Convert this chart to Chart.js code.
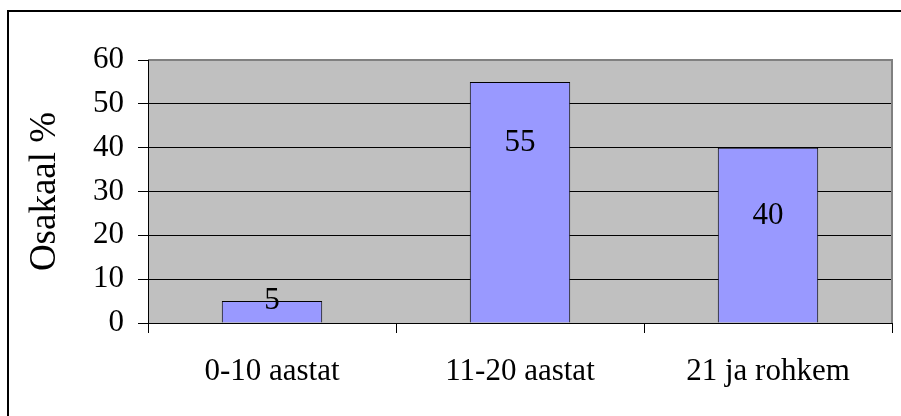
<!DOCTYPE html>
<html>
<head>
<meta charset="utf-8">
<script src="https://cdn.jsdelivr.net/npm/chart.js@4/dist/chart.umd.min.js"></script>
<style>
  html, body { margin: 0; padding: 0; background: #fff; }
  #wrap { width: 901px; height: 416px; position: relative; }
</style>
</head>
<body>
<div id="wrap"><canvas id="c" width="901" height="416"></canvas></div>
<script>
// Staaž: vastajate jaotus (%)
const categories = ['0-10 aastat', '11-20 aastat', '21 ja rohkem'];
const shares = [5, 55, 40];
const yTicks = [0, 10, 20, 30, 40, 50, 60];
const yTitle = 'Osakaal %';

const SERIF = '"Liberation Serif", "Times New Roman", serif';

// Frame around the whole figure, grey plot background and plot border
const framePlugin = {
  id: 'frame',
  beforeDraw(chart) {
    const { ctx, chartArea: a } = chart;
    ctx.save();
    ctx.fillStyle = '#fff';
    ctx.fillRect(0, 0, chart.width, chart.height);
    ctx.strokeStyle = '#000';
    ctx.lineWidth = 2;
    ctx.strokeRect(8, 11, chart.width + 20, chart.height + 20);
    ctx.fillStyle = '#C0C0C0';
    ctx.fillRect(a.left, a.top, a.right - a.left, a.bottom - a.top);
    ctx.restore();
  },
  beforeDatasetsDraw(chart) {
    const { ctx, chartArea: a } = chart;
    ctx.save();
    ctx.strokeStyle = '#808080';
    ctx.lineWidth = 2;
    ctx.beginPath();
    ctx.moveTo(a.left, a.top);
    ctx.lineTo(a.right, a.top);
    ctx.lineTo(a.right, a.bottom);
    ctx.stroke();
    ctx.strokeStyle = '#000';
    ctx.lineWidth = 1;
    ctx.beginPath();
    ctx.moveTo(a.left + 0.5, a.top);
    ctx.lineTo(a.left + 0.5, a.bottom + 0.5);
    ctx.lineTo(a.right, a.bottom + 0.5);
    ctx.stroke();
    ctx.restore();
  }
};

// Value labels drawn over the bars
const valueLabels = {
  id: 'valueLabels',
  afterDatasetsDraw(chart, args, opts) {
    const { ctx } = chart;
    const meta = chart.getDatasetMeta(0);
    ctx.save();
    ctx.font = opts.font;
    ctx.fillStyle = '#000';
    ctx.textAlign = 'center';
    ctx.textBaseline = 'middle';
    meta.data.forEach((bar, i) => {
      const v = chart.data.datasets[0].data[i];
      ctx.fillText(String(v), bar.x, bar.y + opts.offsets[i]);
    });
    ctx.restore();
  }
};

new Chart(document.getElementById('c'), {
  type: 'bar',
  data: {
    labels: categories,
    datasets: [{
      data: shares,
      backgroundColor: '#9999FF',
      borderColor: '#000',
      borderWidth: 1,
      categoryPercentage: 1,
      barPercentage: 0.405
    }]
  },
  options: {
    responsive: false,
    animation: false,
    devicePixelRatio: 1,
    layout: { padding: { top: 60, right: 9, left: 0, bottom: 0 } },
    plugins: {
      legend: { display: false },
      tooltip: { enabled: false },
      valueLabels: { font: '31px ' + SERIF, offsets: [0, 61, 68] }
    },
    scales: {
      x: {
        grid: {
          offset: true,
          drawOnChartArea: false,
          tickLength: 10,
          color: '#000',
          lineWidth: 1
        },
        border: { display: false },
        ticks: {
          color: '#000',
          font: { family: SERIF, size: 31 },
          padding: 20,
          maxRotation: 0
        },
        afterFit(s) { s.height = 93; }
      },
      y: {
        min: 0,
        max: 60,
        afterBuildTicks(s) { s.ticks = yTicks.map(v => ({ value: v })); },
        grid: {
          color: ctx => (ctx.tick && ctx.tick.value === 60) ? 'rgba(0,0,0,0)' : '#000',
          tickColor: '#000',
          tickLength: 10,
          lineWidth: 1
        },
        border: { display: false },
        ticks: {
          color: '#000',
          font: { family: SERIF, size: 31 },
          padding: 14
        },
        title: {
          display: true,
          text: yTitle,
          color: '#000',
          font: { family: SERIF, size: 37 },
          padding: { top: 23, bottom: 0 }
        },
        afterFit(s) { s.width = 148; }
      }
    }
  },
  plugins: [framePlugin, valueLabels]
});
</script>
</body>
</html>
